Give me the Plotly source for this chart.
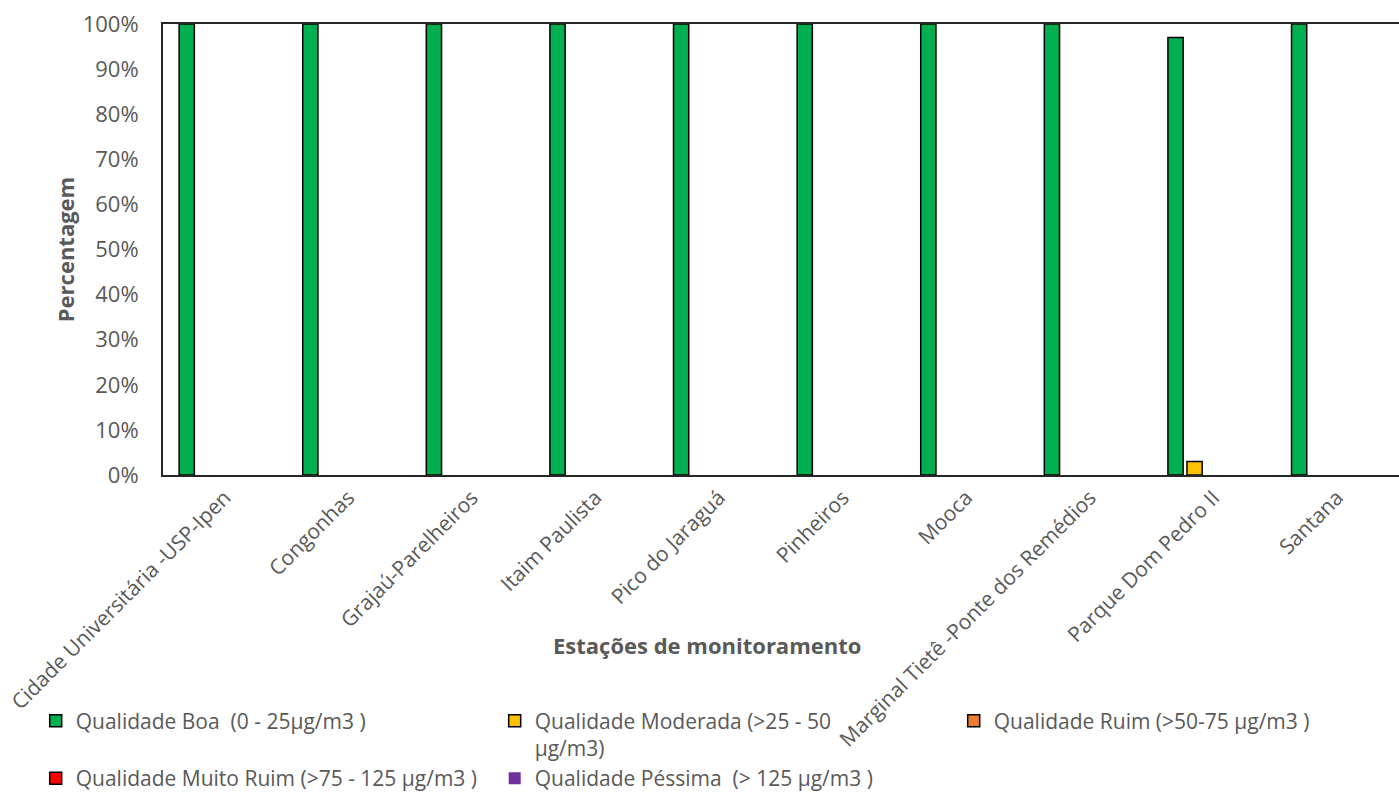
import plotly.graph_objects as go

stations = [
    "Cidade Universitária -USP-Ipen",
    "Congonhas",
    "Grajaú-Parelheiros",
    "Itaim Paulista",
    "Pico do Jaraguá",
    "Pinheiros",
    "Mooca",
    "Marginal Tietê -Ponte dos Remédios",
    "Parque Dom Pedro II",
    "Santana",
]

boa = [100, 100, 100, 100, 100, 100, 100, 100, 97, 100]
moderada = [0, 0, 0, 0, 0, 0, 0, 0, 3, 0]
ruim = [0, 0, 0, 0, 0, 0, 0, 0, 0, 0]
muito_ruim = [0, 0, 0, 0, 0, 0, 0, 0, 0, 0]
pessima = [0, 0, 0, 0, 0, 0, 0, 0, 0, 0]

series_names = [
    "Qualidade Boa  (0 - 25µg/m3 )",
    "Qualidade Moderada (>25 - 50<br>µg/m3)",
    "Qualidade Ruim (>50-75 µg/m3 )",
    "Qualidade Muito Ruim (>75 - 125 µg/m3 )",
    "Qualidade Péssima  (> 125 µg/m3 )",
]
series_values = [boa, moderada, ruim, muito_ruim, pessima]
series_colors = ["#00B050", "#FFC000", "#ED7D31", "#FF0000", "#7030A0"]
series_line_w = [1.5, 1.5, 1.5, 1.5, 0]

FONT = "Open Sans"
GRAY = "#595959"

fig = go.Figure()
for name, vals, col, lw in zip(series_names, series_values, series_colors, series_line_w):
    # zero-height bars are not drawn (as in the original chart)
    shown = [v if v else None for v in vals]
    fig.add_trace(go.Bar(
        x=stations, y=shown, name=name,
        marker=dict(color=col, line=dict(color="#000000", width=lw)),
    ))

fig.update_layout(
    width=1399, height=793,
    margin=dict(l=163, r=0, t=24, b=318, autoexpand=False),
    paper_bgcolor="white", plot_bgcolor="white",
    barmode="group", bargap=0.23, bargroupgap=0.2,
    font=dict(family=FONT, size=21, color=GRAY),
    showlegend=True,
    legend=dict(
        orientation="h", x=-0.103, xanchor="left", y=-0.5, yanchor="top",
        entrywidth=414, entrywidthmode="pixels",
        font=dict(family=FONT, size=21, color=GRAY),
        valign="top", traceorder="normal",
        bgcolor="rgba(0,0,0,0)",
    ),
    xaxis=dict(
        tickangle=-45, showline=True, linecolor="#262626", linewidth=2,
        mirror=True, showgrid=False, ticks="", automargin=False,
        tickfont=dict(family=FONT, size=21, color=GRAY),
    ),
    yaxis=dict(
        range=[0, 100], dtick=10, ticksuffix="%", showline=True,
        linecolor="#262626", linewidth=2, mirror=False, showgrid=False,
        ticks="", ticklabelstandoff=18, zeroline=False, automargin=False,
        tickfont=dict(family=FONT, size=22, color=GRAY),
        title=dict(text="<b>Percentagem</b>", font=dict(family=FONT, size=22, color=GRAY), standoff=2),
    ),
    annotations=[dict(
        text="<b>Estações de monitoramento</b>", xref="paper", yref="paper",
        x=0.44, y=-0.378, xanchor="center", yanchor="middle", showarrow=False,
        font=dict(family=FONT, size=22, color=GRAY),
    )],
)

fig.write_html("out.html")
